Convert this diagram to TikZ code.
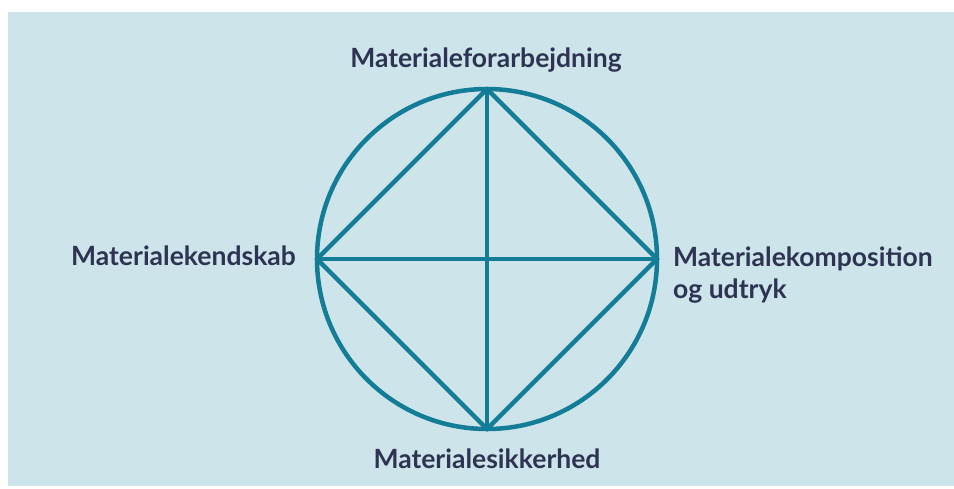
\documentclass[tikz,border=0pt]{standalone}
\usepackage{fontspec}
\setmainfont{Lato}
\usepackage{tikz}

\definecolor{bgblue}{HTML}{CCE4EA}
\definecolor{teal}{HTML}{137C96}
\definecolor{navy}{HTML}{2E3352}

\tikzset{
  spoke/.style={draw=teal,line width=4.5pt,line cap=round},
  lbl/.style={text=navy,font=\fontsize{26.5}{31.5}\selectfont\bfseries,inner sep=0pt}
}

\begin{document}
\begin{tikzpicture}[x=1pt,y=-1pt]
\useasboundingbox (0,0) rectangle (954,488);
\fill[bgblue] (8,12) rectangle (954,486);

\coordinate (M) at (487,259);
\coordinate (T) at (487,89);
\coordinate (R) at (657,259);
\coordinate (B) at (487,429);
\coordinate (L) at (317,259);

\draw[teal,line width=4.5pt] (M) circle[radius=170];

\path[spoke] (T) edge (R) (R) edge (B) (B) edge (L) (L) edge (T);
\path[spoke] (T) edge (B) (L) edge (R);

\node[lbl,anchor=base] (top) at (486,67) {Materialeforarbejdning};
\node[lbl,anchor=base east] (left) at (296,265) {Materialekendskab};
\node[lbl,anchor=base west,align=left] (right) at (673,298) {Materialekomposition\\og udtryk};
\node[lbl,anchor=base] (bottom) at (487,468) {Materialesikkerhed};
\end{tikzpicture}
\end{document}
